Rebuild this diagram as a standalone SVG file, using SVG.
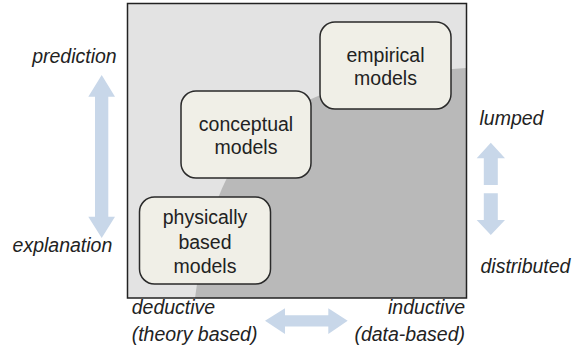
<svg xmlns="http://www.w3.org/2000/svg" width="577" height="352" viewBox="0 0 577 352">
<style>
.node rect{fill:#f0efe7;stroke:#2a2a2a;stroke-width:1.5}
.t{font-family:"Liberation Sans",Arial,sans-serif;font-size:19.5px;fill:#222}
.c{text-anchor:middle}
.i{font-style:italic}
.e{text-anchor:end}
.arr{fill:#c8d7e9}
</style>
<rect x="0" y="0" width="577" height="352" fill="#ffffff"/>
<g id="panel">
<rect x="127.5" y="3.5" width="339" height="294.5" fill="#e3e3e3"/>
<path d="M195 298 C215 150 260 80 466 68 L466 298 Z" fill="#b9b9b9"/>
<rect x="127.5" y="3.5" width="339" height="294.5" fill="none" stroke="#222" stroke-width="1.5"/>
</g>
<g id="empirical" class="node">
<rect x="320" y="22" width="131" height="87" rx="15"/>
<text class="t c" x="385.5" y="62">empirical</text>
<text class="t c" x="385.5" y="85">models</text>
</g>
<g id="conceptual" class="node">
<rect x="181" y="91" width="130" height="87" rx="15"/>
<text class="t c" x="246" y="131">conceptual</text>
<text class="t c" x="246" y="154">models</text>
</g>
<g id="physically" class="node">
<rect x="139.5" y="197" width="131" height="87" rx="15"/>
<text class="t c" x="205" y="224">physically</text>
<text class="t c" x="205" y="249">based</text>
<text class="t c" x="205" y="272.5">models</text>
</g>
<g id="connectors">
<path class="arr" d="M101.7 75 L115 96.7 L108.3 96.7 L108.3 216.7 L115 216.7 L101.7 238 L88.3 216.7 L95 216.7 L95 96.7 L88.3 96.7 Z"/>
<path class="arr" d="M490.8 142.7 L505 158.3 L497.8 158.3 L497.8 185 L483.8 185 L483.8 158.3 L476.7 158.3 Z"/>
<path class="arr" d="M490.8 235 L505 220 L497.8 220 L497.8 193.3 L483.8 193.3 L483.8 220 L476.7 220 Z"/>
<path class="arr" d="M265 320.8 L285 308.3 L285 315.2 L328.3 315.2 L328.3 308.3 L347.7 320.8 L328.3 334 L328.3 326.4 L285 326.4 L285 334 Z"/>
</g>
<g id="labels">
<text class="t i e" x="116.7" y="63.3">prediction</text>
<text class="t i e" x="112.3" y="251.7">explanation</text>
<text class="t i" x="479.5" y="125">lumped</text>
<text class="t i" x="480.5" y="273.3">distributed</text>
<text class="t i" x="131.7" y="314">deductive</text>
<text class="t i" x="131.7" y="341">(theory based)</text>
<text class="t i e" x="465" y="314">inductive</text>
<text class="t i e" x="465" y="341">(data-based)</text>
</g>
</svg>
